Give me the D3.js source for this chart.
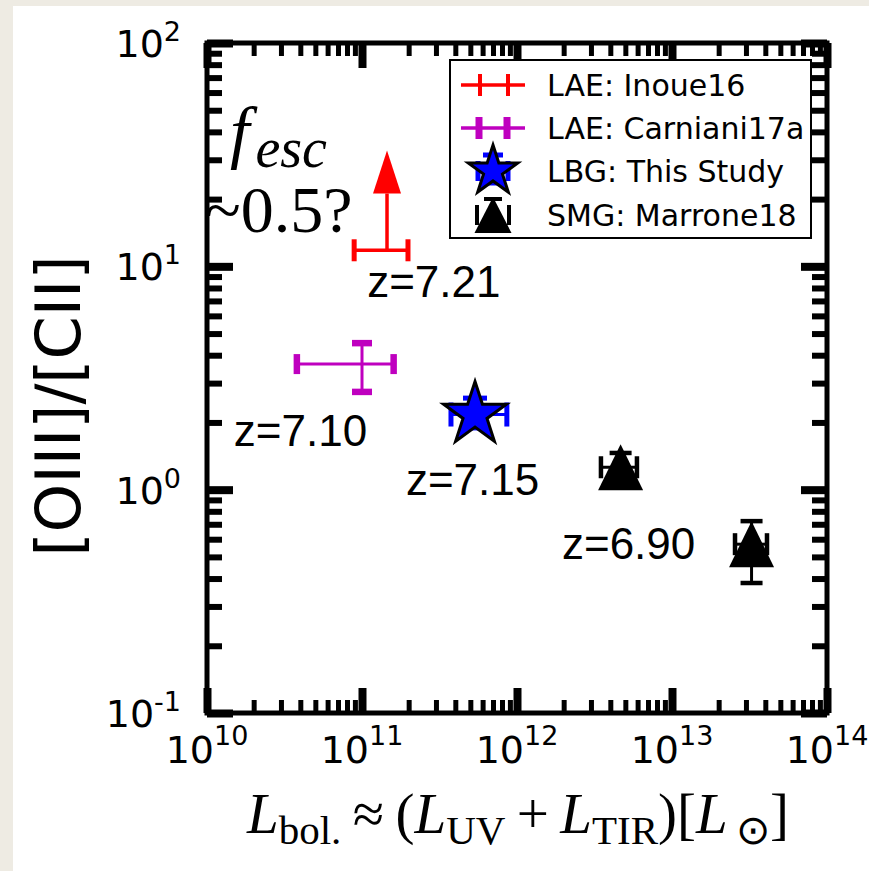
<!DOCTYPE html>
<html>
<head>
<meta charset="utf-8">
<script src="https://cdn.jsdelivr.net/npm/d3@7"></script>
<style>
  body { margin: 0; background: #fff; }
  svg { display: block; }
</style>
</head>
<body>
<svg id="chart" width="869" height="871"></svg>
<script>
// ---- data ----
const majorX = [1e10, 1e11, 1e12, 1e13, 1e14];
const majorY = [0.1, 1, 10, 100];
const xTickExp = ["10", "11", "12", "13", "14"];
const yTickExp = ["-1", "0", "1", "2"];

// LAE Inoue16: lower limit on ratio
const inoue = [{x: 1.45e11, xlo: 8.9e10, xhi: 1.98e11, y: 11.8, arrowTo: 33}];
const carniani = [{x: 1.0e11, xlo: 3.8e10, xhi: 1.6e11, y: 3.65, ylo: 2.74, yhi: 4.53}];
const thisStudy = [{x: 5.36e11, xlo: 3.75e11, xhi: 8.6e11, y: 2.17, ylo: 1.89, yhi: 2.57}];
const marrone = [
    {x: 4.66e12, xlo: 3.48e12, xhi: 5.94e12, y: 1.26, ylo: 1.08, yhi: 1.46},
    {x: 3.26e13, xlo: 2.55e13, xhi: 4.1e13, y: 0.57, ylo: 0.382, yhi: 0.723}
];

// redshift annotations (left edge / baseline in data coords)
const zLabels = [
    {text: "z=7.21", x: 1.08e11, y: 7.29},
    {text: "z=7.10", x: 1.49e10, y: 1.567},
    {text: "z=7.15", x: 1.92e11, y: 0.946},
    {text: "z=6.90", x: 1.95e12, y: 0.489}
];

const legendItems = ["LAE: Inoue16", "LAE: Carniani17a", "LBG: This Study", "SMG: Marrone18"];

const frame = {left: 207, right: 827, top: 43, bottom: 713};

const svg = d3.select("#chart");

// beige page edge
svg.append("rect").attr("x", 0).attr("y", 0).attr("width", 869).attr("height", 871).attr("fill", "#fff");
svg.append("rect").attr("x", 0).attr("y", 0).attr("width", 13).attr("height", 871).attr("fill", "#eeebe3");
svg.append("rect").attr("x", 0).attr("y", 0).attr("width", 869).attr("height", 6).attr("fill", "#eeebe3");

const x = d3.scaleLog().domain([1e10, 1e14]).range([frame.left, frame.right]);
const y = d3.scaleLog().domain([0.1, 100]).range([frame.bottom, frame.top]);

const minorX = x.ticks().filter(v => !majorX.some(m => Math.abs(m - v) / m < 1e-6));
const minorY = y.ticks().filter(v => !majorY.some(m => Math.abs(m - v) / m < 1e-6));

// ---- ticks (inward, on all four sides) ----
function tickAxis(axisFn, pos, scale, values, size, width) {
    const g = svg.append("g")
        .attr("transform", pos)
        .call(axisFn(scale).tickValues(values).tickSize(-size).tickFormat(""));
    g.select(".domain").remove();
    g.selectAll("line").attr("stroke", "#000").attr("stroke-width", width);
}

tickAxis(d3.axisBottom, `translate(0,${frame.bottom})`, x, minorX, 13, 5);
tickAxis(d3.axisBottom, `translate(0,${frame.bottom})`, x, majorX, 25, 8);
tickAxis(d3.axisTop, `translate(0,${frame.top})`, x, minorX, 13, 5);
tickAxis(d3.axisTop, `translate(0,${frame.top})`, x, majorX, 25, 8);
tickAxis(d3.axisLeft, `translate(${frame.left},0)`, y, minorY, 15, 6);
tickAxis(d3.axisLeft, `translate(${frame.left},0)`, y, majorY, 26, 8);
tickAxis(d3.axisRight, `translate(${frame.right},0)`, y, minorY, 15, 6);
tickAxis(d3.axisRight, `translate(${frame.right},0)`, y, majorY, 26, 8);

// frame
svg.append("rect")
    .attr("x", frame.left).attr("y", frame.top)
    .attr("width", frame.right - frame.left).attr("height", frame.bottom - frame.top)
    .attr("fill", "none").attr("stroke", "#000").attr("stroke-width", 5);

// ---- tick labels ----
const xt = svg.append("g").selectAll("text").data(majorX).enter().append("text")
    .attr("x", d => x(d)).attr("y", 763)
    .attr("text-anchor", "middle")
    .attr("font-family", "DejaVu Sans").attr("fill", "#000");
xt.append("tspan").attr("font-size", 38).text("10");
xt.append("tspan").attr("font-size", 27).attr("dy", -18).text((d, i) => xTickExp[i]);

const yt = svg.append("g").selectAll("text").data(majorY).enter().append("text")
    .attr("x", 181).attr("y", d => y(d) + 14)
    .attr("text-anchor", "end")
    .attr("font-family", "DejaVu Sans").attr("fill", "#000");
yt.append("tspan").attr("font-size", 38).text("10");
yt.append("tspan").attr("font-size", 27).attr("dy", -16).text((d, i) => yTickExp[i]);

// axis labels
svg.append("text")
    .attr("transform", "translate(58,406) rotate(-90)")
    .attr("text-anchor", "middle").attr("dominant-baseline", "central")
    .attr("font-family", "DejaVu Sans").attr("font-size", 62)
    .text("[OIII]/[CII]");

const xl = svg.append("text")
    .attr("x", 518).attr("y", 833)
    .attr("text-anchor", "middle")
    .attr("font-family", "Liberation Serif, serif").attr("font-size", 57);
const xlParts = [
    ["L", "i"], ["bol.", "s"], ["\u2009\u2248\u2009(", "n"],
    ["L", "i"], ["UV", "s"], ["\u2009+\u2009", "n"],
    ["L", "i"], ["TIR", "s"], [")[", "n"],
    ["L", "i"], ["\u2009\u2299", "s"], ["]", "n"]
];
let prevSub = false;
xlParts.forEach(p => {
    const t = xl.append("tspan").text(p[0]);
    if (p[1] === "i") t.attr("font-style", "italic");
    if (p[1] === "s") {
        t.attr("font-size", 41).attr("dy", 11);
        prevSub = true;
    } else if (prevSub) {
        t.attr("dy", -11);
        prevSub = false;
    }
});

// ---- data marks ----
const marks = svg.append("g");

function errorBars(data, color, lw, capThick, capHalf) {
    const g = marks.append("g").attr("stroke", color);
    data.forEach(d => {
        const cx = x(d.x), cy = y(d.y);
        g.append("line").attr("x1", x(d.xlo)).attr("x2", x(d.xhi)).attr("y1", cy).attr("y2", cy).attr("stroke-width", lw);
        [d.xlo, d.xhi].forEach(v => {
            g.append("line").attr("x1", x(v)).attr("x2", x(v))
                .attr("y1", cy - capHalf).attr("y2", cy + capHalf).attr("stroke-width", capThick);
        });
        if (d.ylo !== undefined) {
            g.append("line").attr("x1", cx).attr("x2", cx).attr("y1", y(d.ylo)).attr("y2", y(d.yhi)).attr("stroke-width", lw);
            [d.ylo, d.yhi].forEach(v => {
                g.append("line").attr("x1", cx - capHalf).attr("x2", cx + capHalf)
                    .attr("y1", y(v)).attr("y2", y(v)).attr("stroke-width", capThick);
            });
        }
    });
    return g;
}

// Inoue16: x error + upward arrow
errorBars(inoue, "#ff0000", 3.5, 5, 11);
inoue.forEach(d => {
    const cx = x(d.x), tip = y(d.arrowTo), headLen = 43, headHalf = 14;
    marks.append("line").attr("x1", cx).attr("x2", cx)
        .attr("y1", y(d.y)).attr("y2", tip + headLen)
        .attr("stroke", "#ff0000").attr("stroke-width", 3.5);
    marks.append("path")
        .attr("d", `M${cx},${tip} L${cx - headHalf},${tip + headLen} L${cx + headHalf},${tip + headLen} Z`)
        .attr("fill", "#ff0000");
});

errorBars(carniani, "#bf00bf", 3, 6.5, 10);

errorBars(thisStudy, "#0000ff", 3, 5, 12);
const starSize = 33 * 33 / 0.8908130915292852;
marks.selectAll(".star").data(thisStudy).enter().append("path")
    .attr("class", "star")
    .attr("transform", d => `translate(${x(d.x)},${y(d.y)})`)
    .attr("d", d3.symbol(d3.symbolStar, starSize)())
    .attr("fill", "#0000ff").attr("stroke", "#000").attr("stroke-width", 3).attr("stroke-linejoin", "miter");

errorBars(marrone, "#000", 3, 4.5, 11);
function triPath(w, h) {
    return `M0,${-h / 2} L${-w / 2},${h / 2} L${w / 2},${h / 2} Z`;
}
marks.selectAll(".tri").data(marrone).enter().append("path")
    .attr("class", "tri")
    .attr("transform", d => `translate(${x(d.x)},${y(d.y)})`)
    .attr("d", triPath(45, 46))
    .attr("fill", "#000");

// ---- annotations ----
svg.append("g").selectAll("text").data(zLabels).enter().append("text")
    .attr("x", d => x(d.x)).attr("y", d => y(d.y))
    .attr("font-family", "Liberation Sans, Arial, sans-serif").attr("font-size", 44)
    .attr("fill", "#000")
    .text(d => d.text);

const fesc = svg.append("text")
    .attr("x", 230).attr("y", 155)
    .attr("font-family", "Liberation Serif, serif").attr("font-style", "italic");
fesc.append("tspan").attr("font-size", 70).text("f");
fesc.append("tspan").attr("font-size", 56).attr("dy", 12).attr("dx", 6).text("esc");

svg.append("text")
    .attr("x", 205).attr("y", 232)
    .attr("font-family", "Liberation Serif, serif").attr("font-size", 66)
    .text("~0.5?");

// ---- legend ----
const lg = svg.append("g");
lg.append("rect")
    .attr("x", 450).attr("y", 60).attr("width", 361).attr("height", 178)
    .attr("fill", "#fff").attr("stroke", "#000").attr("stroke-width", 2);

const rowY = [85, 128, 171, 215];
const hx = 493;

lg.selectAll(".ltxt").data(legendItems).enter().append("text")
    .attr("class", "ltxt")
    .attr("x", 547).attr("y", (d, i) => rowY[i])
    .attr("dominant-baseline", "central")
    .attr("font-family", "DejaVu Sans").attr("font-size", 30)
    .text(d => d);

function legendBar(cy, color, lw, capThick, caps) {
    lg.append("line").attr("x1", 461).attr("x2", 525).attr("y1", cy).attr("y2", cy)
        .attr("stroke", color).attr("stroke-width", lw);
    caps.forEach(cx => {
        lg.append("line").attr("x1", cx).attr("x2", cx).attr("y1", cy - 11).attr("y2", cy + 11)
            .attr("stroke", color).attr("stroke-width", capThick);
    });
}
legendBar(rowY[0], "#ff0000", 3.5, 4, [480, 508]);
legendBar(rowY[1], "#bf00bf", 3.5, 7, [479, 507]);

// LBG handle
const lb = lg.append("g").attr("stroke", "#0000ff");
lb.append("line").attr("x1", 477).attr("x2", 509).attr("y1", rowY[2]).attr("y2", rowY[2]).attr("stroke-width", 3);
[478, 508].forEach(cx => lb.append("line").attr("x1", cx).attr("x2", cx)
    .attr("y1", rowY[2] - 10).attr("y2", rowY[2] + 10).attr("stroke-width", 5));
[rowY[2] - 16, rowY[2] + 12].forEach(cy => lb.append("line").attr("x1", hx - 10).attr("x2", hx + 10)
    .attr("y1", cy).attr("y2", cy).attr("stroke-width", 5));
lg.append("path")
    .attr("transform", `translate(${hx},${rowY[2]})`)
    .attr("d", d3.symbol(d3.symbolStar, 26 * 26 / 0.8908130915292852)())
    .attr("fill", "#0000ff").attr("stroke", "#000").attr("stroke-width", 3);

// SMG handle
const sb = lg.append("g").attr("stroke", "#000");
[477, 509].forEach(cx => sb.append("line").attr("x1", cx).attr("x2", cx)
    .attr("y1", rowY[3] - 10).attr("y2", rowY[3] + 10).attr("stroke-width", 4));
sb.append("line").attr("x1", hx - 9).attr("x2", hx + 9).attr("y1", rowY[3] - 16).attr("y2", rowY[3] - 16).attr("stroke-width", 4);
sb.append("line").attr("x1", hx).attr("x2", hx).attr("y1", rowY[3] - 16).attr("y2", rowY[3]).attr("stroke-width", 3);
lg.append("path")
    .attr("transform", `translate(${hx},${rowY[3]})`)
    .attr("d", triPath(37, 36))
    .attr("fill", "#000");
</script>
</body>
</html>
